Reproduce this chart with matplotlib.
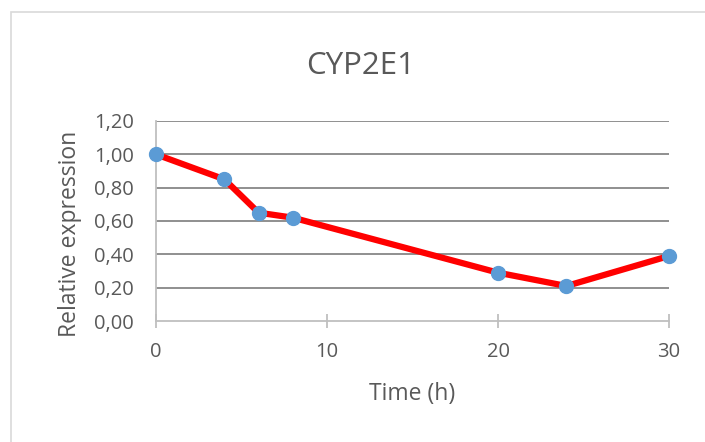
import matplotlib.pyplot as plt
from matplotlib.patches import Rectangle
from matplotlib.ticker import FuncFormatter

# ---------- Data ---------- #
time_h = [0, 4, 6, 8, 20, 24, 30]
rel_expr = [1.00, 0.85, 0.65, 0.62, 0.29, 0.21, 0.39]
y_ticks = [0.0, 0.2, 0.4, 0.6, 0.8, 1.0, 1.2]
x_ticks = [0, 10, 20, 30]

text_col = "#595959"
plt.rcParams['font.family'] = ['Open Sans', 'DejaVu Sans']

W, H = 705, 442
fig = plt.figure(figsize=(W / 100, H / 100), dpi=100)
ax = fig.add_axes([156 / W, 1 - 321 / H, (669 - 156) / W, 200 / H])

# chart area border (Excel style)
fig.patches.append(Rectangle((11 / W, -0.1), 1.1, 1 - 12 / H + 0.1,
                             transform=fig.transFigure, fill=False,
                             edgecolor="#d9d9d9", linewidth=1.2))

ax.plot(time_h, rel_expr, color="#ff0000", linewidth=4.5,
        marker="o", markersize=10, markerfacecolor="#5b9bd5",
        markeredgecolor="#5b9bd5", zorder=3, clip_on=False)

ax.set_xlim(0, 30)
ax.set_ylim(0, 1.2)
ax.set_xticks(x_ticks)
ax.set_yticks(y_ticks)
ax.yaxis.set_major_formatter(FuncFormatter(lambda v, p: f"{v:.2f}".replace(".", ",")))

for v in y_ticks[1:]:
    ax.axhline(v, color="#878787", linewidth=1.3, zorder=1)

for s in ["top", "right"]:
    ax.spines[s].set_visible(False)
for s in ["left", "bottom"]:
    ax.spines[s].set_color("#bfbfbf")
    ax.spines[s].set_linewidth(1.3)

ax.tick_params(axis="y", length=0, pad=16, labelsize=14.5, labelcolor=text_col)
ax.tick_params(axis="x", direction="inout", length=10, width=1.3,
               color="#bfbfbf", pad=10, labelsize=14.5, labelcolor=text_col)

# titles placed like Excel's chart area layout
fig.text(361 / W, 1 - 74 / H, "CYP2E1", fontsize=22.5, color=text_col,
         ha="center", va="baseline")
fig.text(412.5 / W, 1 - 400 / H, "Time (h)", fontsize=16.5, color=text_col,
         ha="center", va="baseline")
fig.text(70 / W, 1 - 233.5 / H, "Relative expression", fontsize=16.5,
         color=text_col, rotation=90, ha="center", va="center")

fig.savefig("out.png", dpi=100)
